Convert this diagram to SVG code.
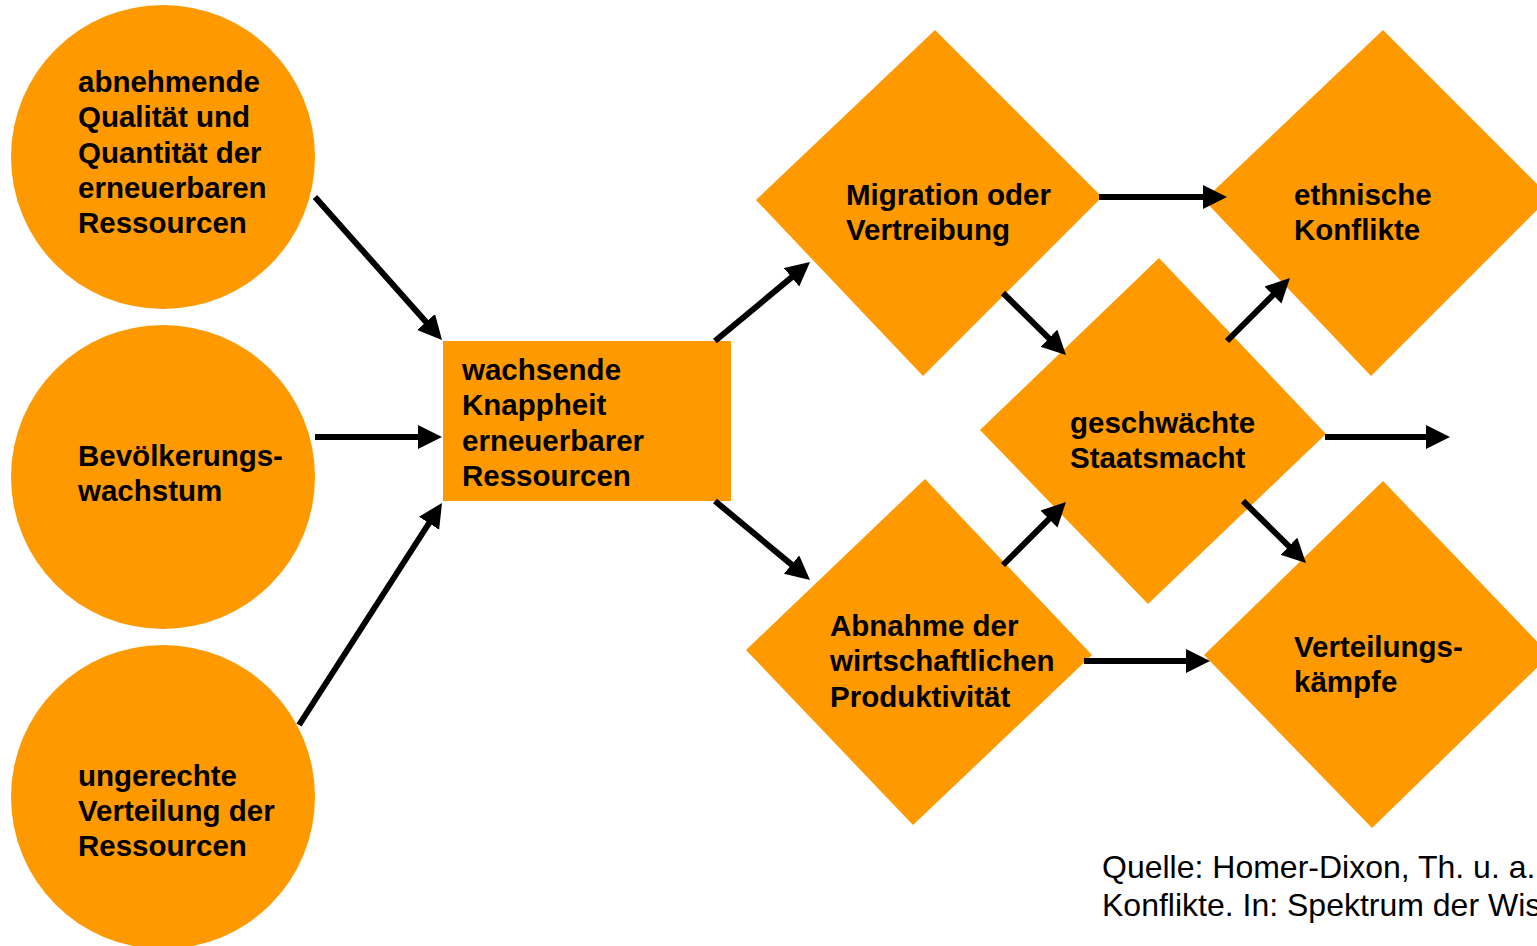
<svg xmlns="http://www.w3.org/2000/svg" width="1537" height="946" viewBox="0 0 1537 946">
<style>
.n{fill:#FF9900;stroke:none}
.t{font-family:"Liberation Sans",Arial,sans-serif;font-weight:bold;font-size:29.5px;fill:#000}
.s{font-family:"Liberation Sans",Arial,sans-serif;font-size:32px;fill:#000}
.c line{stroke:#000;stroke-width:6;marker-end:url(#ah)}
</style>
<defs>
<marker id="ah" markerUnits="userSpaceOnUse" markerWidth="26" markerHeight="26" refX="2" refY="12" orient="auto">
<path d="M0,0 L24,12 L0,24 z" fill="#000"/>
</marker>
</defs>
<rect width="1537" height="946" fill="#fff"/>
<g id="n1"><circle class="n" cx="163" cy="157" r="152"/>
<text class="t" x="78"><tspan x="78" y="92">abnehmende</tspan><tspan x="78" y="127">Qualität und</tspan><tspan x="78" y="163">Quantität der</tspan><tspan x="78" y="198">erneuerbaren</tspan><tspan x="78" y="233">Ressourcen</tspan></text></g>
<g id="n2"><circle class="n" cx="163" cy="477" r="152"/>
<text class="t"><tspan x="78" y="466">Bevölkerungs-</tspan><tspan x="78" y="501">wachstum</tspan></text></g>
<g id="n3"><circle class="n" cx="163" cy="797" r="152"/>
<text class="t"><tspan x="78" y="786">ungerechte</tspan><tspan x="78" y="821">Verteilung der</tspan><tspan x="78" y="856">Ressourcen</tspan></text></g>
<g id="n4"><rect class="n" x="443" y="341" width="288" height="160"/>
<text class="t"><tspan x="462" y="380">wachsende</tspan><tspan x="462" y="415">Knappheit</tspan><tspan x="462" y="451">erneuerbarer</tspan><tspan x="462" y="486">Ressourcen</tspan></text></g>
<g id="n5"><polygon class="n" points="935,30 1102,197 923,376 756,200"/>
<text class="t"><tspan x="846" y="205">Migration oder</tspan><tspan x="846" y="240">Vertreibung</tspan></text></g>
<g id="n6"><polygon class="n" points="1383,30 1550,197 1371,376 1204,200"/>
<text class="t"><tspan x="1294" y="205">ethnische</tspan><tspan x="1294" y="240">Konflikte</tspan></text></g>
<g id="n7"><polygon class="n" points="1159,258 1326,434 1148,604 980,430"/>
<text class="t"><tspan x="1070" y="433">geschwächte</tspan><tspan x="1070" y="468">Staatsmacht</tspan></text></g>
<g id="n8"><polygon class="n" points="925,479 1092,655 913,825 746,650"/>
<text class="t"><tspan x="830" y="636">Abnahme der</tspan><tspan x="830" y="671">wirtschaftlichen</tspan><tspan x="830" y="707">Produktivität</tspan></text></g>
<g id="n9"><polygon class="n" points="1383,481 1550,655 1372,828 1204,655"/>
<text class="t"><tspan x="1294" y="657">Verteilungs-</tspan><tspan x="1294" y="692">kämpfe</tspan></text></g>
<g id="connectors" class="c">
<line x1="315" y1="197" x2="427.4" y2="323.5"/>
<line x1="315" y1="437" x2="420" y2="437"/>
<line x1="299" y1="725" x2="430.1" y2="521.5"/>
<line x1="715" y1="341" x2="793.1" y2="276.1"/>
<line x1="715" y1="501" x2="793.1" y2="565.9"/>
<line x1="1099" y1="197" x2="1205" y2="197"/>
<line x1="1003" y1="293" x2="1050.3" y2="339.6"/>
<line x1="1227" y1="341" x2="1274.4" y2="293.6"/>
<line x1="1325" y1="437" x2="1428" y2="437"/>
<line x1="1003" y1="565" x2="1050.4" y2="517.6"/>
<line x1="1243" y1="501" x2="1290.3" y2="547.6"/>
<line x1="1084" y1="661" x2="1188" y2="661"/>
</g>
<g id="source"><text class="s"><tspan x="1102" y="878">Quelle: Homer-Dixon, Th. u. a.</tspan><tspan x="1102" y="916">Konflikte. In: Spektrum der Wis</tspan></text></g>
</svg>
